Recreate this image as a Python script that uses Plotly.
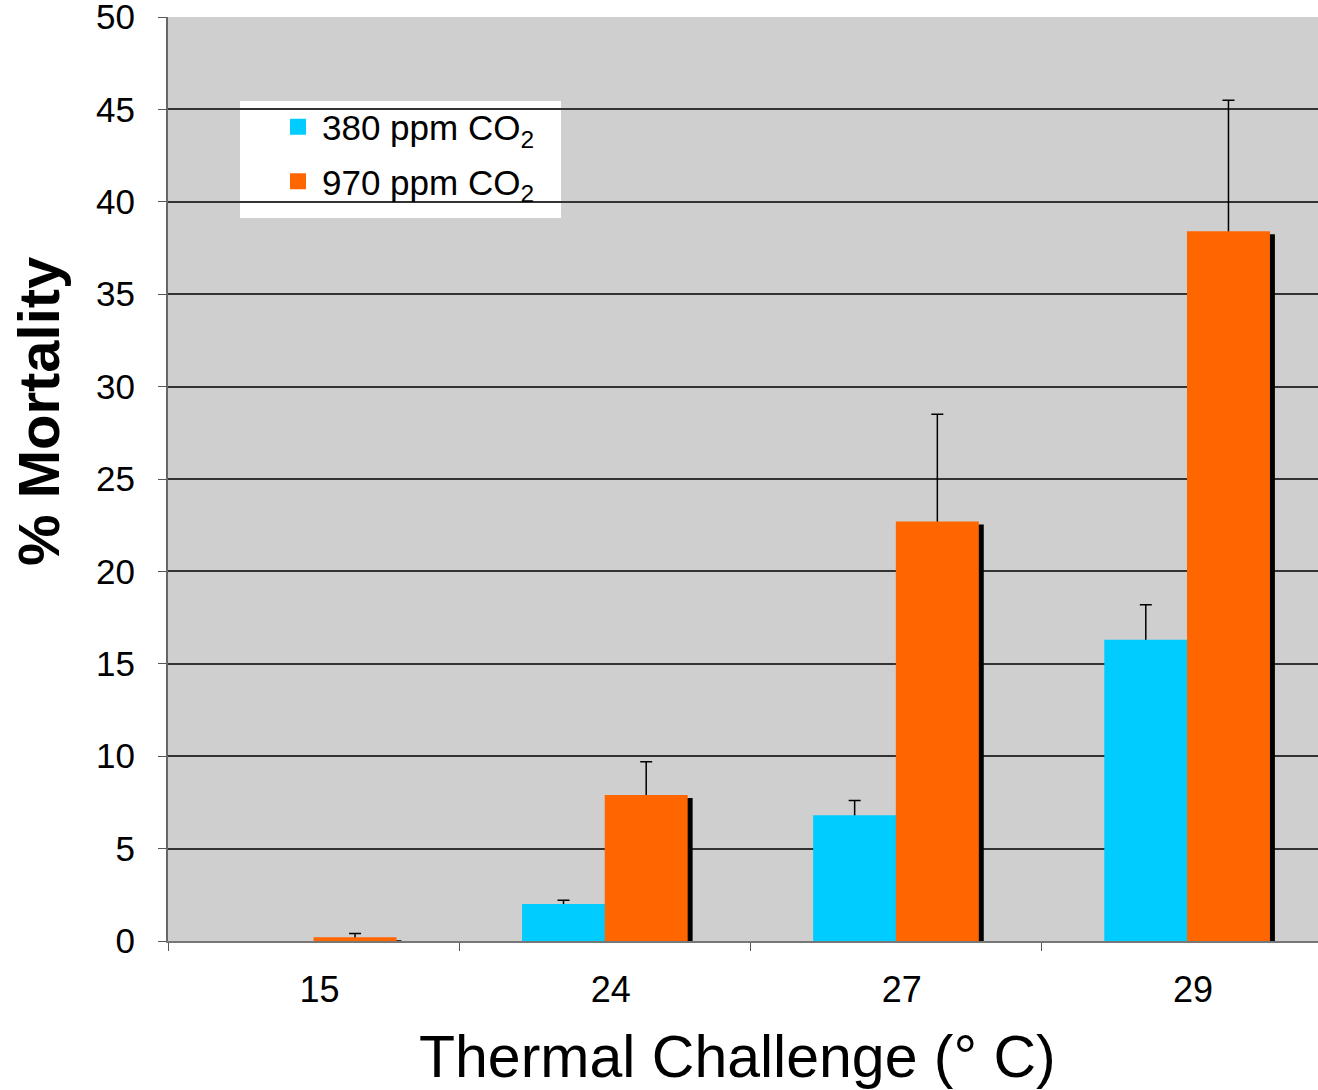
import plotly.graph_objects as go

categories = ["15", "24", "27", "29"]
series_names = ["380 ppm CO<sub>2</sub>", "970 ppm CO<sub>2</sub>"]
low_co2 = [0.0, 2.0, 6.8, 16.3]
low_err = [None, 0.2, 0.8, 1.9]
high_co2 = [0.2, 7.9, 22.7, 38.4]
high_err = [0.2, 1.8, 5.8, 7.1]
y_ticks = [0, 5, 10, 15, 20, 25, 30, 35, 40, 45, 50]

REG = "Liberation Sans, Arial, sans-serif"
CYAN = "#00CCFF"
ORANGE = "#FF6600"

W = 0.285          # bar width (category units)
OFF_LOW = -0.284   # offset of the 380 ppm bar
OFF_HIGH = 0.0     # offset of the 970 ppm bar
SH = 0.017         # shadow shift to the right
SH_BASE = -0.16    # shadow shift downwards (data units)

fig = go.Figure()

# error bars live on the base axes so the bars (overlay axes) cover their lower caps
for vals, errs, off in [(low_co2, low_err, OFF_LOW), (high_co2, high_err, OFF_HIGH)]:
    keep = [i for i, e in enumerate(errs) if e is not None]
    fig.add_trace(go.Bar(
        x=[categories[i] for i in keep], y=[vals[i] for i in keep],
        offset=off, width=W,
        marker=dict(color="rgba(0,0,0,0)", line=dict(width=0)),
        error_y=dict(type="data", array=[errs[i] for i in keep],
                     arrayminus=[0.12] * len(keep),
                     symmetric=False, color="black", thickness=1.5, width=6),
        showlegend=False, hoverinfo="skip", xaxis="x", yaxis="y",
    ))

# drop shadows
for vals, off in [(low_co2, OFF_LOW), (high_co2, OFF_HIGH)]:
    fig.add_trace(go.Bar(
        x=categories, y=vals, base=SH_BASE, offset=off + SH, width=W,
        marker=dict(color="black", line=dict(width=0)), cliponaxis=False,
        showlegend=False, hoverinfo="skip", xaxis="x2", yaxis="y2",
    ))

# visible bars
for vals, off, col, name in [(low_co2, OFF_LOW, CYAN, series_names[0]),
                             (high_co2, OFF_HIGH, ORANGE, series_names[1])]:
    fig.add_trace(go.Bar(
        x=categories, y=vals, offset=off, width=W, name=name,
        marker=dict(color=col, line=dict(width=0)),
        showlegend=False, xaxis="x2", yaxis="y2",
    ))

# legend entries with large square swatches
for i, (col, name) in enumerate([(CYAN, series_names[0]), (ORANGE, series_names[1])]):
    fig.add_trace(go.Scatter(
        x=[None], y=[None], mode="markers", name=name, legendgroup=f"g{i}",
        marker=dict(symbol="square", size=22, color=col),
        xaxis="x2", yaxis="y2",
    ))

xcommon = dict(type="category", categoryorder="array", categoryarray=categories,
               range=[-0.5, 3.45], automargin=False)
ycommon = dict(range=[0, 50], automargin=False)

fig.update_layout(
    width=1318, height=1090,
    margin=dict(l=168, r=0, t=17, b=149),
    barmode="overlay",
    paper_bgcolor="white",
    plot_bgcolor="#CFCFCF",
    font=dict(family=REG, color="black"),
    showlegend=True,
    legend=dict(
        x=(274 - 168) / 1150, y=0.913, xanchor="left", yanchor="top",
        bgcolor="rgba(0,0,0,0)", font=dict(size=35, family=REG),
        traceorder="grouped", tracegroupgap=6, itemwidth=38,
    ),
    xaxis=dict(
        **xcommon,
        showline=True, linecolor="#777777", linewidth=1.5,
        ticks="outside", tickson="boundaries", ticklen=8, tickcolor="#555555",
        tickfont=dict(size=36, family=REG), ticklabelstandoff=16,
        ticklabelshift=6,
        showgrid=False,
    ),
    yaxis=dict(
        **ycommon, tickvals=y_ticks,
        showline=True, linecolor="#666666", linewidth=2,
        ticks="outside", ticklen=8, tickcolor="#555555",
        tickfont=dict(size=35, family=REG), ticklabelstandoff=16,
        ticklabeloverflow="allow",
        showgrid=True, gridcolor="#333333", gridwidth=1.5,
        zeroline=False,
    ),
    xaxis2=dict(**xcommon, overlaying="x", visible=False),
    yaxis2=dict(**ycommon, overlaying="y", visible=False),
    shapes=[dict(type="rect", xref="paper", yref="paper",
                 x0=(240 - 168) / 1150, x1=(561 - 168) / 1150,
                 y0=(941 - 218) / 924, y1=(941 - 101) / 924,
                 fillcolor="white", line=dict(width=0), layer="between")],
    annotations=[
        dict(text="Thermal Challenge (° C)", xref="paper", yref="paper",
             x=(737 - 168) / 1150, y=(941 - 1057) / 924,
             xanchor="center", yanchor="middle", showarrow=False,
             font=dict(size=59, family=REG)),
        dict(text="<b>% Mortality</b>", xref="paper", yref="paper",
             x=(38 - 168) / 1150, y=(941 - 412) / 924, textangle=-90,
             xanchor="center", yanchor="middle", showarrow=False,
             font=dict(size=58, family=REG)),
    ],
)

fig.write_html("out.html", config={"displayModeBar": False},
               post_script="document.body.style.margin='0px';document.body.style.overflow='hidden';")
